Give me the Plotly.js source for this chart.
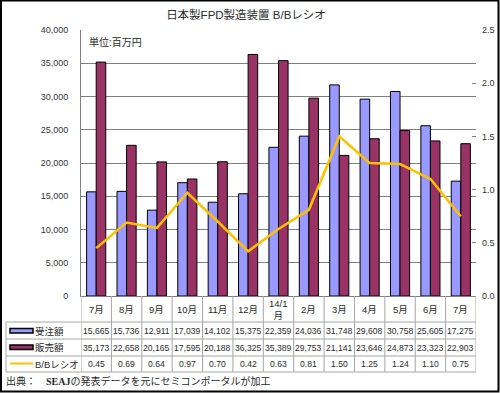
<!DOCTYPE html>
<html>
<head>
<meta charset="utf-8">
<script src="https://cdn.plot.ly/plotly-3.0.1.min.js"></script>
<style>html,body{margin:0;padding:0;background:#fff;}#chart{width:500px;height:393px;}</style>
</head>
<body>
<div id="chart"></div>
<script>
const monthLabels = ["7月","8月","9月","10月","11月","12月","14/1<br>月","2月","3月","4月","5月","6月","7月"];
const orders = [15665,15736,12911,17039,14102,15375,22359,24036,31748,29608,30758,25605,17275];
const sales  = [35173,22658,20165,17595,20188,36325,35389,29753,21141,23646,24873,23323,22903];
const ratio  = [0.45,0.69,0.64,0.97,0.70,0.42,0.63,0.81,1.50,1.25,1.24,1.10,0.75];
const seriesNames = ["受注額","販売額","B/Bレシオ"];

const W = 500, H = 393, L = 81, R = 24, T = 30, B = 97;
const pw = W - L - R, ph = H - T - B;
const px2x = px => (px - L) / pw;
const py2y = py => (H - B - py) / ph;

const idx = monthLabels.map((_, i) => i);
const FONT = "Liberation Sans, Arial, Noto Sans CJK JP";
const txtColor = "#2a2a2a";
const tableColor = "#a6a6a6";

const traces = [
  {type:"bar", name:seriesNames[0], x:idx, y:orders, marker:{color:"#9999FF", line:{color:"#000", width:1}}},
  {type:"bar", name:seriesNames[1], x:idx, y:sales, marker:{color:"#993366", line:{color:"#000", width:1}}},
  {type:"scatter", mode:"lines", name:seriesNames[2], x:idx, y:ratio, yaxis:"y2", line:{color:"#FFC000", width:2.5}}
];

const rowY = [py2y(322), py2y(339), py2y(356), py2y(372)];
const rowMid = [py2y(331), py2y(347.5), py2y(364)];
const shapes = [];
for (let i = 0; i <= idx.length; i++) {
  shapes.push({type:"line", xref:"x", yref:"paper", x0:i-0.5, x1:i-0.5, y0:0, y1:rowY[3], line:{color:tableColor, width:1}});
}
shapes.push({type:"line", xref:"paper", yref:"paper", x0:px2x(6), x1:px2x(6), y0:rowY[0], y1:rowY[3], line:{color:tableColor, width:1}});
rowY.forEach(y => shapes.push({type:"line", xref:"paper", yref:"paper", x0:px2x(6), x1:1, y0:y, y1:y, line:{color:tableColor, width:1}}));
shapes.push({type:"rect", xref:"paper", yref:"paper", x0:px2x(10), x1:px2x(33), y0:py2y(333), y1:py2y(328.5), fillcolor:"#9999FF", line:{color:"#000", width:1.5}});
shapes.push({type:"rect", xref:"paper", yref:"paper", x0:px2x(10), x1:px2x(33), y0:py2y(349.5), y1:py2y(345), fillcolor:"#993366", line:{color:"#000", width:1.5}});
shapes.push({type:"line", xref:"paper", yref:"paper", x0:px2x(10), x1:px2x(33), y0:py2y(363.5), y1:py2y(363.5), line:{color:"#FFC000", width:2}});
shapes.push({type:"rect", xref:"paper", yref:"paper", x0:px2x(1), x1:px2x(498.5), y0:py2y(391.5), y1:py2y(0.5), line:{color:"#000", width:2}, fillcolor:"rgba(0,0,0,0)", layer:"above"});

const annotations = [];
const fmt = v => v.toLocaleString("en-US");
const cellFont = {family:FONT, size:8.6, color:txtColor};
idx.forEach(i => {
  annotations.push({xref:"x", yref:"paper", x:i, y:py2y(309), text:monthLabels[i], showarrow:false, font:{family:FONT, size:9.5, color:txtColor}, xanchor:"center", yanchor:"middle"});
  annotations.push({xref:"x", yref:"paper", x:i, y:rowMid[0], text:fmt(orders[i]), showarrow:false, font:cellFont, xanchor:"center", yanchor:"middle"});
  annotations.push({xref:"x", yref:"paper", x:i, y:rowMid[1], text:fmt(sales[i]), showarrow:false, font:cellFont, xanchor:"center", yanchor:"middle"});
  annotations.push({xref:"x", yref:"paper", x:i, y:rowMid[2], text:ratio[i].toFixed(2), showarrow:false, font:cellFont, xanchor:"center", yanchor:"middle"});
});
seriesNames.forEach((n, k) => {
  annotations.push({xref:"paper", yref:"paper", x:px2x(33), y:rowMid[k], text:n, showarrow:false, font:{family:FONT, size:9.5, color:txtColor}, xanchor:"left", yanchor:"middle"});
});
annotations.push({xref:"paper", yref:"paper", x:px2x(87), y:py2y(42), text:"単位:百万円", showarrow:false, font:{family:FONT, size:10, color:txtColor}, xanchor:"left", yanchor:"middle"});
annotations.push({xref:"paper", yref:"paper", x:px2x(4), y:py2y(380.5), text:"出典：　<b>SEAJ</b>の発表データを元にセミコンポータルが加工", showarrow:false, font:{family:"Liberation Serif, Noto Sans CJK JP", size:10, color:txtColor}, xanchor:"left", yanchor:"middle"});

const layout = {
  width:W, height:H,
  margin:{l:L, r:R, t:T, b:B, pad:0},
  paper_bgcolor:"#fff", plot_bgcolor:"#fff",
  title:{text:"日本製FPD製造装置 B/Bレシオ", x:246/W, xanchor:"center", y:1-15/H, yanchor:"middle", font:{family:FONT, size:11.5, color:txtColor}},
  showlegend:false,
  barmode:"group", bargap:0.37, bargroupgap:0,
  xaxis:{range:[-0.5, idx.length-0.5], showticklabels:false, showgrid:false, zeroline:false, showline:true, linecolor:"#808080", linewidth:1, ticks:""},
  yaxis:{range:[0,40000], dtick:5000, tickformat:",d", showgrid:true, gridcolor:"#808080", gridwidth:1, zeroline:false, showline:true, linecolor:"#808080", ticks:"", ticklabelstandoff:10, tickfont:{family:FONT, size:9, color:"#333"}},
  yaxis2:{overlaying:"y", side:"right", range:[0,2.5], dtick:0.5, tickformat:".1f", showgrid:false, zeroline:false, showline:false, ticks:"inside", ticklen:4, tickcolor:"#808080", ticklabelstandoff:5, tickfont:{family:FONT, size:9, color:"#333"}},
  shapes:shapes, annotations:annotations
};

Plotly.newPlot("chart", traces, layout, {staticPlot:true, displayModeBar:false});
</script>
</body>
</html>
